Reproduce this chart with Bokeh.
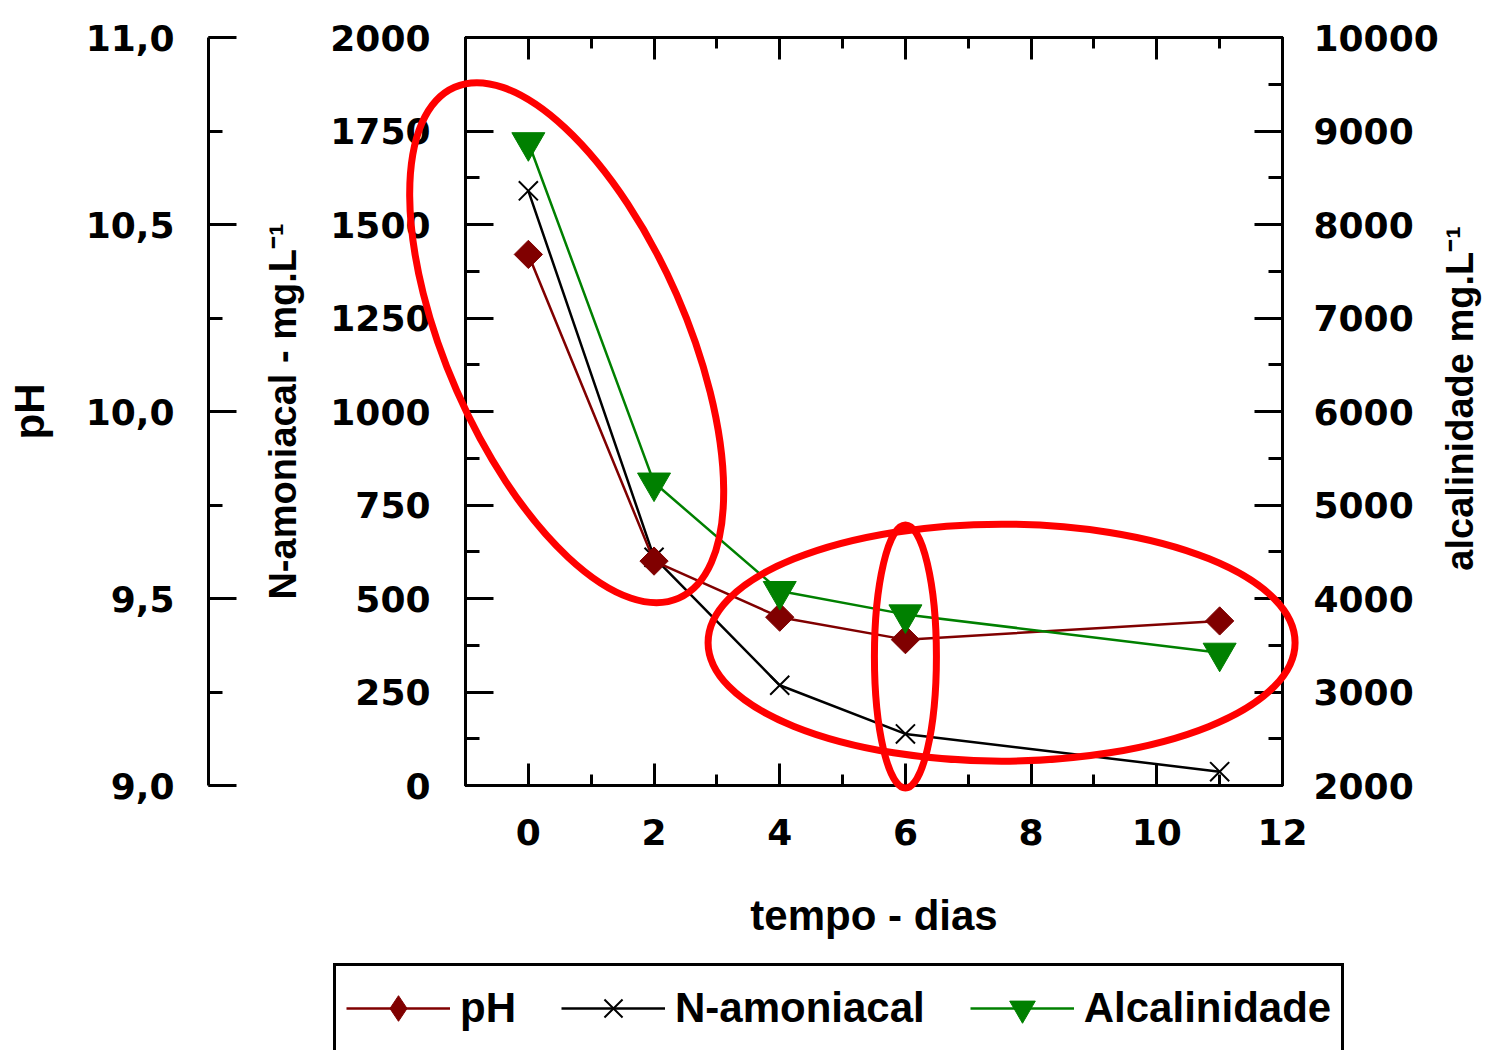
import math
from bokeh.plotting import figure
from bokeh.layouts import column
from bokeh.core.properties import value
from bokeh.models import (LinearAxis, Range1d, SingleIntervalTicker, CustomJSTickFormatter,
                          Legend, LegendItem, ColumnDataSource)
from bokeh.embed import file_html
from bokeh.resources import INLINE

# ---------------- data ----------------
tempo = [0, 2, 4, 6, 11]
ph = [10.42, 9.60, 9.45, 9.39, 9.44]
n_amoniacal = [1590, 610, 268, 138, 37]
alcalinidade = [8880, 5240, 4080, 3830, 3420]

x_limits = (-1, 12)
n_limits = (0, 2000)
ph_limits = (9.0, 11.0)
alk_limits = (2000, 10000)

series_labels = ["pH", "N-amoniacal", "Alcalinidade"]
axis_titles = {"x": "tempo - dias", "ph": "pH", "n": "N-amoniacal - mg.L⁻¹",
               "alk": "alcalinidade mg.L⁻¹"}

# highlight ellipses (annotations): centre in (tempo, N-amoniacal) units
hl_x = [0.61, 7.53, 6.0]
hl_y = [1184, 382, 345]
hl_w = [240, 587, 62]
hl_h = [558, 237, 263]
hl_angle = [math.radians(23.7), 0.0, 0.0]

c_ph, c_n, c_alk = "#800000", "#000000", "#008000"

# ---------------- main figure ----------------
p = figure(width=1487, height=955,
           x_range=Range1d(*x_limits), y_range=Range1d(*n_limits),
           output_backend="svg", toolbar_location=None,
           min_border_left=465, min_border_right=205,
           min_border_top=37, min_border_bottom=170)
p.extra_y_ranges = {"ph": Range1d(*ph_limits), "alk": Range1d(*alk_limits)}
p.grid.visible = False
p.outline_line_color = "black"
p.outline_line_width = 3
p.background_fill_color = "white"
p.border_fill_color = "white"

comma1 = CustomJSTickFormatter(code="return tick.toFixed(1).replace('.', ',')")
intfmt = CustomJSTickFormatter(code="return tick.toFixed(0)")

# N-amoniacal (inner left)
yN = p.yaxis[0]
yN.ticker = SingleIntervalTicker(interval=250, num_minor_ticks=2)
yN.formatter = intfmt
yN.axis_label = " \n" + axis_titles["n"]
yN.major_label_standoff = 35
yN.axis_label_standoff = 23

# pH (outer left)
yph = LinearAxis(y_range_name="ph", ticker=SingleIntervalTicker(interval=0.5, num_minor_ticks=2),
                 formatter=comma1, axis_label=axis_titles["ph"])
yph.major_label_standoff = 34
yph.axis_label_standoff = 30
p.add_layout(yph, "left")

# alcalinidade (right)
yalk = LinearAxis(y_range_name="alk", ticker=SingleIntervalTicker(interval=1000, num_minor_ticks=2),
                  formatter=intfmt)
yalk.major_label_standoff = 31
p.add_layout(yalk, "right")

# x bottom
xb = p.xaxis[0]
xb.ticker = SingleIntervalTicker(interval=2, num_minor_ticks=2)
xb.formatter = intfmt
xb.axis_label = axis_titles["x"]
xb.major_label_standoff = 33
xb.axis_label_standoff = 44

# x top (mirror ticks only)
xt = LinearAxis(ticker=SingleIntervalTicker(interval=2, num_minor_ticks=2),
                formatter=CustomJSTickFormatter(code="return ''"))
xt.major_label_standoff = 0
xt.major_label_text_font_size = "0px"
p.add_layout(xt, "above")

for ax in [yN, yph, yalk, xb, xt]:
    ax.axis_line_width = 3
    ax.axis_line_color = "black"
    ax.major_tick_line_width = 3
    ax.minor_tick_line_width = 3
    ax.major_tick_out = 0
    ax.minor_tick_out = 0
    ax.major_tick_in = 28
    ax.minor_tick_in = 14
    ax.axis_label_text_font = "Liberation Sans"
    ax.axis_label_text_font_style = "bold"
    ax.axis_label_text_font_size = "38px"
    ax.axis_label_text_color = "black"
    ax.major_label_text_color = "black"
for ax in [yN, yph, yalk, xb]:
    ax.major_label_text_font = "DejaVu Sans"
    ax.major_label_text_font_style = "bold"
    ax.major_label_text_font_size = "36px"
for ax in [xb, xt]:
    ax.major_tick_in = 22
    ax.minor_tick_in = 11
xb.axis_label_text_font_size = "42px"
yph.axis_label_text_font_size = "42px"

# right-hand axis title, reading bottom-to-top like the left ones
p.text(x=[14.83], y=[1035], text=[axis_titles["alk"]], angle=math.pi / 2,
       text_align="center", text_baseline="alphabetic",
       text_font=value("Liberation Sans"), text_font_style="bold", text_font_size="38px",
       text_color="black", level="overlay")

# ---------------- glyphs ----------------
src = ColumnDataSource(dict(tempo=tempo, ph=ph, n=n_amoniacal, alk=alcalinidade))


def draw_series(fig, ph_range=None, alk_range=None, ph_marker="square", ph_angle=math.pi / 4,
                ph_size=20):
    kw_ph = {} if ph_range is None else {"y_range_name": ph_range}
    kw_alk = {} if alk_range is None else {"y_range_name": alk_range}
    l_n = fig.line("tempo", "n", source=src, line_color=c_n, line_width=2.5)
    m_n = fig.scatter("tempo", "n", source=src, marker="x", size=27, line_color=c_n, line_width=2)
    l_ph = fig.line("tempo", "ph", source=src, line_color=c_ph, line_width=2.5, **kw_ph)
    m_ph = fig.scatter("tempo", "ph", source=src, marker=ph_marker, angle=ph_angle,
                       size=ph_size, fill_color=c_ph, line_color=c_ph, **kw_ph)
    l_alk = fig.line("tempo", "alk", source=src, line_color=c_alk, line_width=2.5, **kw_alk)
    m_alk = fig.scatter("tempo", "alk", source=src, marker="inverted_triangle",
                        size=33, fill_color=c_alk, line_color=c_alk, **kw_alk)
    return (l_ph, m_ph), (l_n, m_n), (l_alk, m_alk)


draw_series(p, "ph", "alk")

# highlight ellipses
p.ellipse(x=hl_x, y=hl_y, width=hl_w, height=hl_h, angle=hl_angle,
          width_units="screen", height_units="screen",
          fill_color=None, line_color="#ff0000", line_width=7, level="overlay")

# ---------------- legend strip (own small figure, series kept out of view) ----------------
p_leg = figure(width=1487, height=95, x_range=Range1d(100, 101), y_range=Range1d(100, 101),
               output_backend="svg", toolbar_location=None, min_border=0,
               x_axis_location=None, y_axis_location=None)
p_leg.frame_align = False
p_leg.grid.visible = False
p_leg.outline_line_color = None
p_leg.background_fill_color = "white"
p_leg.border_fill_color = "white"
r_ph, r_n, r_alk = draw_series(p_leg, ph_marker="diamond", ph_angle=0.0, ph_size=30)

legend = Legend(items=[
    LegendItem(label=series_labels[0], renderers=list(r_ph)),
    LegendItem(label=series_labels[1], renderers=list(r_n)),
    LegendItem(label=series_labels[2], renderers=list(r_alk)),
], orientation="horizontal", location=(333, -3),
    glyph_width=104, glyph_height=64, label_standoff=10, spacing=45, padding=10, margin=0,
    border_line_color="black", border_line_alpha=1.0, border_line_width=3,
    background_fill_color="white", background_fill_alpha=1.0,
    label_text_font="Liberation Sans", label_text_font_style="bold", label_text_font_size="42px",
    label_text_color="black")
p_leg.add_layout(legend, "center")

layout = column(p, p_leg, spacing=0)
open("out.html", "w").write(file_html(layout, INLINE))
